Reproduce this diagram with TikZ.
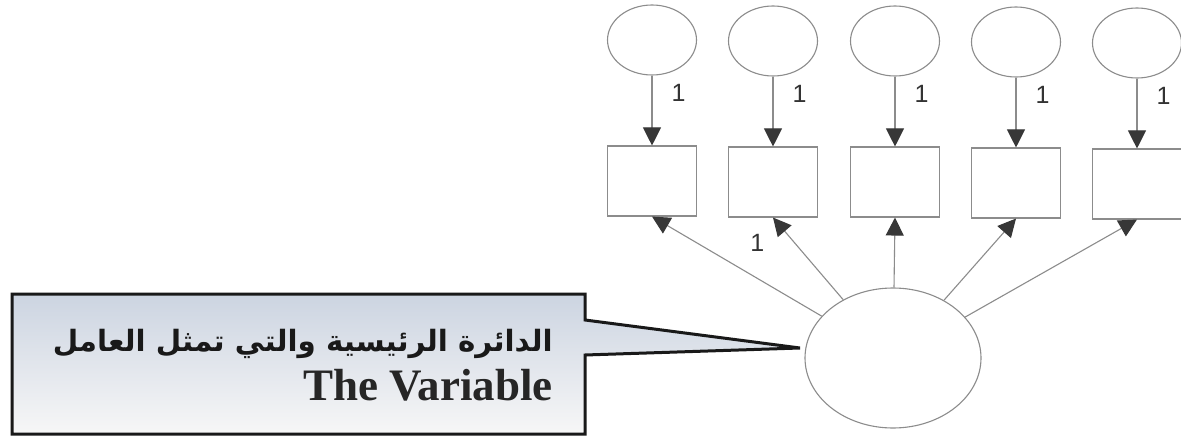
\documentclass[tikz,border=0pt]{standalone}
\usepackage{fontspec}
\setmainfont{Liberation Serif}
\newfontfamily\arabicfont[Script=Arabic]{DejaVu Sans}
\newfontfamily\labelfont{Liberation Sans}
\TeXXeTstate=1
\usetikzlibrary{arrows.meta,shapes.geometric}

\definecolor{linegray}{RGB}{140,140,140}
\definecolor{headgray}{RGB}{55,55,55}
\definecolor{calloutTop}{RGB}{204,212,225}
\definecolor{calloutBot}{RGB}{247,247,247}

\tikzset{
  link/.style={draw=linegray, line width=1.1pt,
    -{Triangle[length=18pt,width=18pt,color=headgray,fill=headgray]}},
  errcircle/.style={ellipse, draw=linegray, line width=1.1pt,
    minimum width=89pt, minimum height=70pt, inner sep=0pt},
  obsbox/.style={rectangle, draw=linegray, line width=1.1pt,
    minimum width=89pt, minimum height=70pt, inner sep=0pt},
  factor/.style={ellipse, draw=linegray, line width=1.1pt,
    minimum width=176pt, minimum height=140pt, inner sep=0pt},
  loadlabel/.style={font=\labelfont\fontsize{25pt}{25pt}\selectfont,
    text=black!80, inner sep=0pt},
  callout/.style={draw=black!90, line width=3pt, line join=miter,
    top color=calloutTop, bottom color=calloutBot}
}

\begin{document}
\begin{tikzpicture}[x=1pt, y=-1pt]
  \useasboundingbox[fill=white] (0,0) rectangle (1181,441);

  % error terms and indicators
  \foreach \i/\cx/\dy in {1/652/0, 2/773/1, 3/895/1, 4/1016/2, 5/1137/3}{
    \node[errcircle] (e\i) at (\cx, 40+\dy) {};
    \node[obsbox]    (x\i) at (\cx, 181+\dy) {};
    \draw[link] (e\i) -- node[loadlabel, pos=0.25, anchor=west, xshift=19pt] {1} (x\i);
  }

  % the factor
  \node[factor] (F) at (893,358) {};
  \draw[link] (F) -- (x1.south);
  \draw[link] (F) -- node[loadlabel, pos=0.69, anchor=east, xshift=-30pt] {1} (x2.south);
  \draw[link] (F) -- (x3.south);
  \draw[link] (F) -- (x4.south);
  \draw[link] (F) -- (x5.south);

  % callout pointing at the factor
  \coordinate (tip) at (800,348);
  \path[callout] (12,294) -- (585,294) -- (585,320) -- (tip) -- (585,355)
    -- (585,434) -- (12,434) -- cycle;

  \node[anchor=base east, inner sep=0pt, text=black!90] (arabline) at (553,351)
    {\resizebox{500pt}{!}{\arabicfont\bfseries\beginR الدائرة الرئيسية والتي تمثل العامل\endR}};
  \node[anchor=base east, inner sep=0pt, text=black!85] (engline) at (553,400)
    {\fontsize{45pt}{45pt}\selectfont\bfseries The Variable};
\end{tikzpicture}
\end{document}
